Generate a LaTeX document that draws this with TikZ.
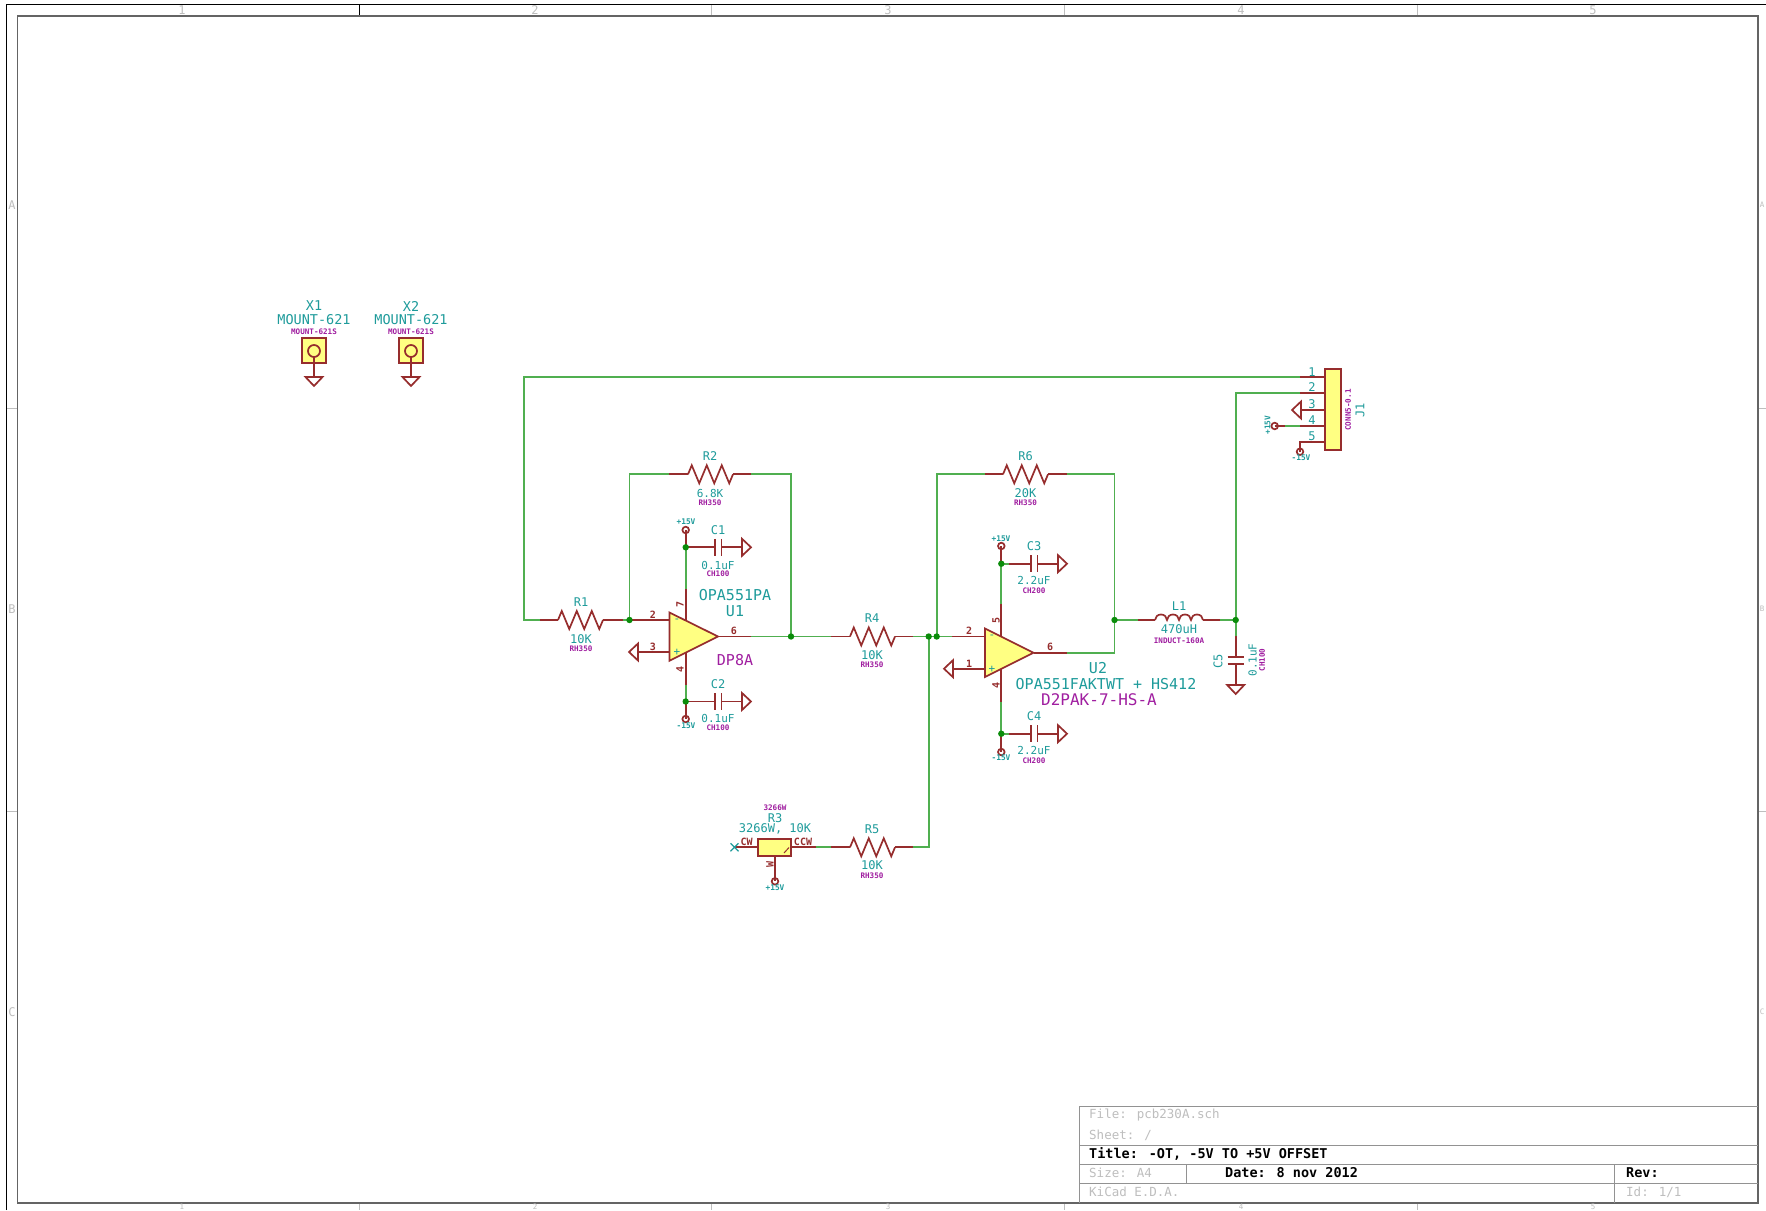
\documentclass[tikz,border=0pt]{standalone}
\usepackage{fontspec}
\setmainfont{DejaVu Sans Mono}
\definecolor{compred}{RGB}{150,45,45}
\definecolor{wiregreen}{RGB}{80,175,80}
\definecolor{junc}{RGB}{10,140,10}
\definecolor{fieldteal}{RGB}{30,155,155}
\definecolor{footmag}{RGB}{160,30,160}
\definecolor{bodyfill}{RGB}{255,255,130}
\definecolor{sheetgray}{RGB}{190,190,190}
\definecolor{framegray}{RGB}{100,100,100}
\newcommand{\fs}[1]{\fontsize{#1}{#1}\selectfont}
\tikzset{
  comp/.style={draw=compred,line width=1.7pt,line join=miter},
  bodyshape/.style={comp,fill=bodyfill},
  wire/.style={draw=wiregreen,line width=1.7pt,line join=miter},
  pinred/.style={draw=compred,line width=1.7pt},
  dot/.style={circle,fill=junc,inner sep=0,minimum size=6.4pt},
  lbl/.style={inner sep=0,text=fieldteal,font=\fs{12}},
  val/.style={inner sep=0,text=fieldteal,font=\fs{11}},
  big/.style={inner sep=0,text=fieldteal,font=\fs{15}},
  mnt/.style={inner sep=0,text=fieldteal,font=\fs{13.5}},
  foot/.style={inner sep=0,text=footmag,font=\bfseries\fs{7.6}},
  bigfoot/.style={inner sep=0,text=footmag,font=\fs{15}},
  pow/.style={inner sep=0,text=fieldteal,font=\bfseries\fs{7.8}},
  pinnum/.style={inner sep=0,text=compred,font=\bfseries\fs{10}},
  sheettext/.style={inner sep=0,anchor=west,text=sheetgray,font=\fs{12.5}},
  boldtext/.style={inner sep=0,anchor=west,text=black,font=\bfseries\fs{13.5}},
  edgemark/.style={inner sep=0,text=sheetgray,font=\fs{12}},
  edgemarkb/.style={inner sep=0,text=sheetgray,font=\fs{7.5}},
  sheetline/.style={draw=sheetgray,line width=1pt},
  tableline/.style={draw=framegray!70,line width=1pt},
}
\newcommand{\resistor}[3]{% name, x, y
  \coordinate (#1a) at (#2,#3);
  \coordinate (#1b) at (#2+45,#3);
  \draw[comp] (#1a) -- ++(3.75,-9) -- ++(7.5,18) -- ++(7.5,-18) -- ++(7.5,18) -- ++(7.5,-18) -- ++(7.5,18) -- (#1b);
}
\newcommand{\gndR}[3]{\coordinate (#1) at (#2,#3);
  \draw[comp] (#2,#3-8.5) -- (#2+9,#3) -- (#2,#3+8.5) -- cycle;}
\newcommand{\gndL}[3]{\coordinate (#1) at (#2,#3);
  \draw[comp] (#2,#3-8.5) -- (#2-9,#3) -- (#2,#3+8.5) -- cycle;}
\newcommand{\gndD}[3]{\coordinate (#1) at (#2,#3);
  \draw[comp] (#2-8.5,#3) -- (#2,#3+9) -- (#2+8.5,#3) -- cycle;}
\newcommand{\capH}[3]{% name, left plate x, y
  \coordinate (#1a) at (#2,#3);
  \coordinate (#1b) at (#2+6.5,#3);
  \draw[comp] (#2,#3-8.5) -- (#2,#3+8.5);
  \draw[comp] (#2+6.5,#3-8.5) -- (#2+6.5,#3+8.5);
}
\newcommand{\opencirc}[3]{\coordinate (#1) at (#2,#3);
  \draw[comp,fill=white] (#2,#3) circle (3.3pt);}
\begin{document}
\begin{tikzpicture}[x=1pt,y=-1pt]
\useasboundingbox (0,0) rectangle (1766,1210);
\fill[white] (0,0) rectangle (1766,1210);

% --- sheet frame
\coordinate (ftl) at (6.5,4.5);
\draw[sheetline] (711.5,4.5) -- (711.5,16) (1064,4.5) -- (1064,16) (1417,4.5) -- (1417,16);
\draw[sheetline] (359,1203) -- (359,1210) (711.5,1203) -- (711.5,1210) (1064,1203) -- (1064,1210) (1417,1203) -- (1417,1210);
\draw[sheetline] (6.5,408) -- (17.5,408) (6.5,811) -- (17.5,811);
\draw[sheetline] (1758,408) -- (1766,408) (1758,811) -- (1766,811);
\draw[black,line width=1.1pt] (6.5,1210) -- (ftl) -- (1766,4.5);
\draw[black,line width=1pt] (359,4.5) -- (359,16);
\draw[framegray,line width=1.5pt] (17.5,16) rectangle (1758,1203);
\node[edgemark] (t1) at (182,10) {1};
\node[edgemark] (t2) at (535,10) {2};
\node[edgemark] (t3) at (888,10) {3};
\node[edgemark] (t4) at (1241,10) {4};
\node[edgemark] (t5) at (1593,10) {5};
\node[edgemarkb] (b1) at (182,1206.5) {1};
\node[edgemarkb] (b2) at (535,1206.5) {2};
\node[edgemarkb] (b3) at (888,1206.5) {3};
\node[edgemarkb] (b4) at (1241,1206.5) {4};
\node[edgemarkb] (b5) at (1593,1206.5) {5};
\node[edgemark] (la) at (12,205) {A};
\node[edgemark] (lb) at (12,609) {B};
\node[edgemark] (lc) at (12,1012) {C};
\node[edgemarkb] (ra) at (1762,205) {A};
\node[edgemarkb] (rb) at (1762,609) {B};
\node[edgemarkb] (rc) at (1762,1012) {C};

% --- title block
\draw[tableline] (1758,1106) -- (1079,1106) -- (1079,1203);
\draw[tableline] (1079,1145) -- (1758,1145) (1079,1164) -- (1758,1164) (1079,1183) -- (1758,1183);
\draw[tableline] (1186,1164) -- (1186,1183) (1614,1164) -- (1614,1203);
\node[sheettext] (tbfile) at (1089,1115) {File: pcb230A.sch};
\node[sheettext] (tbsheet) at (1089,1135) {Sheet: /};
\node[boldtext] (tbtitle) at (1089,1154) {Title: -OT, -5V TO +5V OFFSET};
\node[sheettext] (tbsize) at (1089,1173) {Size: A4};
\node[boldtext] (tbdate) at (1225,1173) {Date: 8 nov 2012};
\node[boldtext] (tbrev) at (1626,1173) {Rev:};
\node[sheettext] (tbkicad) at (1089,1192) {KiCad E.D.A.};
\node[sheettext] (tbid) at (1626,1192) {Id: 1/1};

% --- named points of the nets
\coordinate (j1) at (629.5,620);
\coordinate (j2) at (791,636.5);
\coordinate (j3) at (928.7,636.5);
\coordinate (j4) at (936.7,636.5);
\coordinate (j5) at (1114.5,620);
\coordinate (j6) at (1235.7,620);
\coordinate (j7) at (685.7,547.3);
\coordinate (j8) at (685.7,701.5);
\coordinate (j9) at (1001.3,563.7);
\coordinate (j10) at (1001.3,733.7);
\coordinate (r1l) at (540,620);
\coordinate (r1r) at (623,620);
\coordinate (r2l) at (669,474.3);
\coordinate (r2r) at (751,474.3);
\coordinate (u1o) at (751,636.5);
\coordinate (r4l) at (831,636.5);
\coordinate (r4r) at (913,636.5);
\coordinate (u2i) at (952,636.5);
\coordinate (r6l) at (985,474.3);
\coordinate (r6r) at (1066.5,474.3);
\coordinate (u2o) at (1066.5,652.7);
\coordinate (l1l) at (1138,620);
\coordinate (l1r) at (1220,620);
\coordinate (r3p) at (816,847.3);
\coordinate (r5l) at (831,847.3);
\coordinate (r5r) at (913,847.3);
\coordinate (u1t) at (685.7,589);
\coordinate (u1b) at (685.7,685);
\coordinate (u2t) at (1001.3,604);
\coordinate (u2b) at (1001.3,702);
\coordinate (c3w) at (1009,563.7);
\coordinate (c4w) at (1009,733.7);
\coordinate (j1p1) at (1300,377.3);
\coordinate (j1p2) at (1300,393.3);
\coordinate (j1p4) at (1300,426);
\coordinate (j1p4w) at (1285,426);
\coordinate (c5t) at (1235.7,636);

% --- wires
\draw[wire] (r1l) -- (524,620) -- (524,377.3) -- (j1p1);
\draw[wire] (r1r) -- (j1) -- (629.5,474.3) -- (r2l);
\draw[wire] (r2r) -- (791,474.3) -- (j2);
\draw[wire] (u1o) -- (r4l);
\draw[wire] (r4r) -- (u2i);
\draw[wire] (j4) -- (936.7,474.3) -- (r6l);
\draw[wire] (r6r) -- (1114.5,474.3) -- (1114.5,652.7) -- (u2o);
\draw[wire] (j5) -- (l1l);
\draw[wire] (l1r) -- (j6);
\draw[wire] (c5t) -- (1235.7,393.3) -- (j1p2);
\draw[wire] (r3p) -- (r5l);
\draw[wire] (r5r) -- (928.7,847.3) -- (j3);
\draw[wire] (u1t) -- (j7);
\draw[wire] (u1b) -- (j8);
\draw[wire] (u2t) -- (j9);
\draw[wire] (u2b) -- (j10);
\draw[wire] (j9) -- (c3w);
\draw[wire] (j10) -- (c4w);
\draw[wire] (j1p4w) -- (j1p4);

% --- resistors
\resistor{r1}{558}{620}
\draw[pinred] (r1l) -- (r1a) (r1b) -- (r1r);
\resistor{r2}{688}{474.3}
\draw[pinred] (r2l) -- (r2a) (r2b) -- (r2r);
\resistor{r4}{850}{636.5}
\draw[pinred] (r4l) -- (r4a) (r4b) -- (r4r);
\resistor{r6}{1003}{474.3}
\draw[pinred] (r6l) -- (r6a) (r6b) -- (r6r);
\resistor{r5}{850}{847.3}
\draw[pinred] (r5l) -- (r5a) (r5b) -- (r5r);

% --- U1
\coordinate (u1in) at (669.5,620);
\coordinate (u1ip) at (669.5,652);
\coordinate (u1out) at (718,636.5);
\coordinate (u1vp) at (685.7,625);
\coordinate (u1vn) at (685.7,650);
\gndL{g3}{638}{652}
\draw[pinred] (j1) -- (u1in) (u1ip) -- (g3) (u1out) -- (u1o) (u1t) -- (u1vp) (u1vn) -- (u1b);
\draw[bodyshape] (669.5,612.5) -- (718,636.5) -- (669.5,660.7) -- cycle;
\node[inner sep=0,text=fieldteal,font=\fs{11}] (u1m) at (677,621) {-};
\node[inner sep=0,text=fieldteal,font=\fs{11}] (u1pl) at (677,652) {+};
\node[pinnum] (u1p2) at (653,615) {2};
\node[pinnum] (u1p3) at (653,647) {3};
\node[pinnum] (u1p6) at (734,631) {6};
\node[pinnum,rotate=90] (u1p7) at (680,604) {7};
\node[pinnum,rotate=90] (u1p4) at (680,669) {4};
\opencirc{pu1}{685.7}{530}
\opencirc{nu1}{685.7}{719}
\draw[pinred] (j7) -- (pu1) (j8) -- (nu1);
\node[pow] (pu1t) at (686,522) {+15V};
\node[pow] (nu1t) at (686,726) {-15V};
\node[big] (u1val) at (735,595) {OPA551PA};
\node[big] (u1ref) at (735,611) {U1};
\node[bigfoot] (u1fp) at (735,660) {DP8A};

% --- U2
\coordinate (u2in) at (985,636.5);
\coordinate (u2ip) at (985,668.7);
\coordinate (u2out) at (1033.5,652.7);
\coordinate (u2vp) at (1001.3,640);
\coordinate (u2vn) at (1001.3,668);
\gndL{g1}{953}{668.7}
\draw[pinred] (u2i) -- (u2in) (u2ip) -- (g1) (u2out) -- (u2o) (u2t) -- (u2vp) (u2vn) -- (u2b);
\draw[bodyshape] (985,628.5) -- (1033.5,652.7) -- (985,677) -- cycle;
\node[inner sep=0,text=fieldteal,font=\fs{11}] (u2m) at (992,637) {-};
\node[inner sep=0,text=fieldteal,font=\fs{11}] (u2pl) at (992,669) {+};
\node[pinnum] (u2p2) at (969,631) {2};
\node[pinnum] (u2p1) at (969,664) {1};
\node[pinnum] (u2p6) at (1050,647) {6};
\node[pinnum,rotate=90] (u2p5) at (996,620) {5};
\node[pinnum,rotate=90] (u2p4) at (996,685) {4};
\opencirc{pu2}{1001.3}{546}
\opencirc{nu2}{1001.3}{752}
\draw[pinred] (j9) -- (pu2) (j10) -- (nu2);
\node[pow] (pu2t) at (1001,539) {+15V};
\node[pow] (nu2t) at (1001,758) {-15V};
\node[big] (u2ref) at (1098,668) {U2};
\node[big] (u2val) at (1106,684) {OPA551FAKTWT + HS412};
\node[inner sep=0,text=footmag,font=\fs{16}] (u2fp) at (1099,700) {D2PAK-7-HS-A};

% --- capacitors
\capH{c1}{715}{547.3}
\gndR{gc1}{742}{547.3}
\draw[pinred] (j7) -- (c1a) (c1b) -- (gc1);
\capH{c2}{715}{701.5}
\gndR{gc2}{742}{701.5}
\draw[pinred] (j8) -- (c2a) (c2b) -- (gc2);
\capH{c3}{1031}{563.7}
\gndR{gc3}{1058}{563.7}
\draw[pinred] (c3w) -- (c3a) (c3b) -- (gc3);
\capH{c4}{1031}{733.7}
\gndR{gc4}{1058}{733.7}
\draw[pinred] (c4w) -- (c4a) (c4b) -- (gc4);
% C5
\coordinate (c5a) at (1235.7,657);
\coordinate (c5b) at (1235.7,664);
\draw[comp] (1227.5,657) -- (1244,657);
\draw[comp] (1227.5,664) -- (1244,664);
\gndD{gc5}{1235.7}{685}
\draw[pinred] (c5t) -- (c5a) (c5b) -- (gc5);

% --- L1
\coordinate (l1a) at (1155,620);
\coordinate (l1b) at (1203,620);
\draw[comp] (l1a) arc[start angle=180,end angle=360,x radius=6,y radius=5.5]
  arc[start angle=180,end angle=360,x radius=6,y radius=5.5]
  arc[start angle=180,end angle=360,x radius=6,y radius=5.5]
  arc[start angle=180,end angle=360,x radius=6,y radius=5.5];
\draw[pinred] (l1l) -- (l1a) (l1b) -- (l1r);

% --- J1
\coordinate (j1b1) at (1324.7,377.3);
\coordinate (j1b2) at (1324.7,393.3);
\coordinate (j1b3) at (1324.7,410);
\coordinate (j1b4) at (1324.7,426);
\coordinate (j1b5) at (1324.7,442.3);
\gndL{gj}{1301}{410}
\opencirc{pj}{1274.7}{426}
\opencirc{nj}{1300}{451.7}
\draw[pinred] (j1p1) -- (j1b1) (j1p2) -- (j1b2) (gj) -- (j1b3) (j1p4) -- (j1b4);
\draw[pinred] (pj) -- (j1p4w);
\draw[pinred] (j1b5) -- (1300,442.3) -- (nj);
\draw[bodyshape] (1324.7,369.3) rectangle (1341,450);
\node[lbl] (jn1) at (1312,372) {1};
\node[lbl] (jn2) at (1312,387.5) {2};
\node[lbl] (jn3) at (1312,404) {3};
\node[lbl] (jn4) at (1312,420) {4};
\node[lbl] (jn5) at (1312,436) {5};
\node[foot,rotate=90] (jfp) at (1348,410) {CONN5-0.1};
\node[lbl,rotate=90] (jref) at (1360,410) {J1};
\node[pow,rotate=90] (pjt) at (1267.5,425) {+15V};
\node[pow] (njt) at (1301,458) {-15V};

% --- X1, X2
\draw[bodyshape] (301.7,338.3) rectangle (326,362.7);
\draw[comp] (314,351) circle (6pt);
\coordinate (x1c) at (314,357);
\gndD{gx1}{314}{377}
\draw[pinred] (x1c) -- (gx1);
\draw[bodyshape] (398.7,338.3) rectangle (423,362.7);
\draw[comp] (411,351) circle (6pt);
\coordinate (x2c) at (411,357);
\gndD{gx2}{411}{377}
\draw[pinred] (x2c) -- (gx2);
\node[mnt] (x1r) at (314,306) {X1};
\node[mnt] (x1v) at (314,320) {MOUNT-621};
\node[foot] (x1f) at (314,331.7) {MOUNT-621S};
\node[mnt] (x2r) at (411,306) {X2};
\node[mnt] (x2v) at (411,320) {MOUNT-621};
\node[foot] (x2f) at (411,331.7) {MOUNT-621S};

% --- R3
\coordinate (r3l) at (758.3,847.3);
\coordinate (r3r) at (791.3,847.3);
\coordinate (r3w) at (775,855.7);
\coordinate (ncx) at (734.5,847.3);
\opencirc{pr3}{775}{881.3}
\draw[pinred] (ncx) -- (r3l) (r3r) -- (r3p) (r3w) -- (pr3);
\draw[bodyshape] (758.3,839.3) rectangle (791.3,855.7);
\draw[comp,line width=1pt] (784,853) -- (789,847.5);
\draw[draw=fieldteal,line width=1.2pt] (730.5,843.3) -- (738.5,851.3) (738.5,843.3) -- (730.5,851.3);
\node[pinnum] (cw) at (746.7,842) {CW};
\node[pinnum] (ccw) at (803,842) {CCW};
\node[pinnum,rotate=90] (wip) at (770,864) {W};
\node[pow] (pr3t) at (775,888) {+15V};
\node[foot] (r3f) at (775,807.7) {3266W};
\node[lbl] (r3r2) at (775,818) {R3};
\node[lbl] (r3v) at (775,829) {3266W, 10K};

% --- labels
\node[lbl] (r1n) at (581,602) {R1};
\node[lbl] (r1v) at (581,639) {10K};
\node[foot] (r1f) at (581,649) {RH350};
\node[lbl] (r2n) at (710,456) {R2};
\node[val] (r2v) at (710,493) {6.8K};
\node[foot] (r2f) at (710,503) {RH350};
\node[lbl] (r4n) at (872,618) {R4};
\node[lbl] (r4v) at (872,655) {10K};
\node[foot] (r4f) at (872,665) {RH350};
\node[lbl] (r5n) at (872,829) {R5};
\node[lbl] (r5v) at (872,865) {10K};
\node[foot] (r5f) at (872,875.7) {RH350};
\node[lbl] (r6n) at (1025.5,456) {R6};
\node[lbl] (r6v) at (1025.5,493) {20K};
\node[foot] (r6f) at (1025.5,503) {RH350};
\node[lbl] (c1n) at (718,530.5) {C1};
\node[val] (c1v) at (718,565) {0.1uF};
\node[foot] (c1f) at (718,574) {CH100};
\node[lbl] (c2n) at (718,684) {C2};
\node[val] (c2v) at (718,718) {0.1uF};
\node[foot] (c2f) at (718,728) {CH100};
\node[lbl] (c3n) at (1034,546) {C3};
\node[val] (c3v) at (1034,580) {2.2uF};
\node[foot] (c3f) at (1034,590.7) {CH200};
\node[lbl] (c4n) at (1034,716) {C4};
\node[val] (c4v) at (1034,750) {2.2uF};
\node[foot] (c4f) at (1034,761) {CH200};
\node[lbl,rotate=90] (c5n) at (1218,661) {C5};
\node[val,rotate=90] (c5v) at (1252.7,660) {0.1uF};
\node[foot,rotate=90] (c5f) at (1262,660) {CH100};
\node[lbl] (l1n) at (1179,606) {L1};
\node[lbl] (l1v) at (1179,629) {470uH};
\node[foot] (l1f) at (1179,641) {INDUCT-160A};

% --- junctions
\foreach \j in {j1,j2,j3,j4,j5,j6,j7,j8,j9,j10}
  \node[dot] at (\j) {};
\end{tikzpicture}
\end{document}
